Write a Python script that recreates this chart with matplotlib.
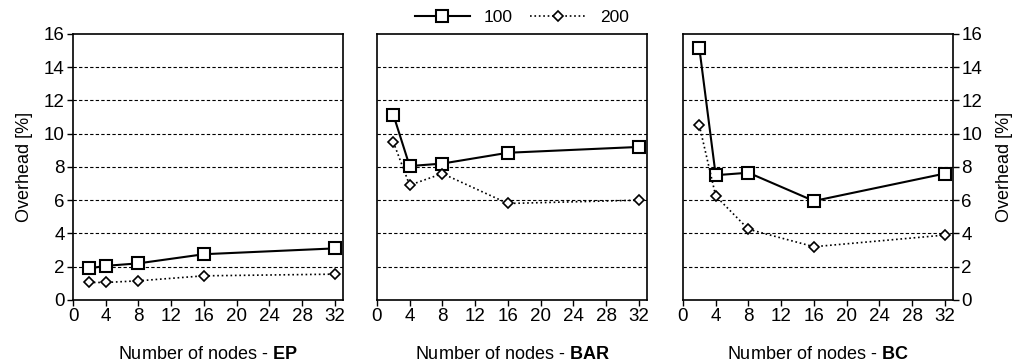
import matplotlib
matplotlib.use("Agg")
from matplotlib import pyplot as plt

plt.rcParams['font.family'] = ['Liberation Sans', 'DejaVu Sans']
plt.rcParams['mathtext.fontset'] = 'custom'
plt.rcParams['mathtext.rm'] = 'Liberation Sans'
plt.rcParams['mathtext.bf'] = 'Liberation Sans:bold'

nodes = [2, 4, 8, 16, 32]
ep_100 = [1.9, 2.05, 2.2, 2.75, 3.1]
ep_200 = [1.05, 1.05, 1.15, 1.45, 1.55]
bar_100 = [11.15, 8.05, 8.2, 8.85, 9.2]
bar_200 = [9.5, 6.9, 7.6, 5.8, 6.0]
bc_100 = [15.15, 7.5, 7.65, 5.95, 7.6]
bc_200 = [10.5, 6.25, 4.25, 3.2, 3.9]
names = ['EP', 'BAR', 'BC']
xticks = [0, 4, 8, 12, 16, 20, 24, 28, 32]
yticks = [0, 2, 4, 6, 8, 10, 12, 14, 16]

fig = plt.figure(figsize=(10.27, 3.64), dpi=100)
lefts = [0.0711, 0.367, 0.665]
w = 0.263
bottom = 0.176
h = 0.731
data = [(ep_100, ep_200), (bar_100, bar_200), (bc_100, bc_200)]

for i in range(3):
    ax = fig.add_axes([lefts[i], bottom, w, h])
    a, b = data[i]
    l1, = ax.plot(nodes, a, color='black', lw=1.5, marker='s', ms=8,
                  mfc='white', mec='black', mew=1.5, label='100', zorder=3)
    l2, = ax.plot(nodes, b, color='black', lw=1.2, ls=':', marker='D', ms=5,
                  mfc='white', mec='black', mew=1.2, label='200', zorder=3)
    ax.set_xlim(0, 33)
    ax.set_ylim(0, 16)
    ax.set_xticks(xticks)
    ax.set_yticks(yticks)
    for y in yticks[1:-1]:
        ax.axhline(y, color='black', lw=0.8, ls=(0, (3, 2)), zorder=1)
    ax.tick_params(direction='out', length=4, width=1, labelsize=13.5, colors='black', pad=2)
    for s in ax.spines.values():
        s.set_linewidth(1.2)
    ax.set_xlabel('Number of nodes - $\\mathbf{' + names[i] + '}$', fontsize=13, labelpad=15)
    if i == 0:
        ax.set_ylabel('Overhead [%]', fontsize=13, labelpad=8)
    elif i == 1:
        ax.tick_params(axis='y', left=False, labelleft=False)
    else:
        ax.yaxis.tick_right()
        ax.yaxis.set_label_position('right')
        ax.set_ylabel('Overhead [%]', fontsize=13, labelpad=10)

fig.legend([l1, l2], ['100', '200'], loc='center', bbox_to_anchor=(0.508, 0.953),
           ncol=2, frameon=False, fontsize=12.5, handlelength=3.2, columnspacing=1.0,
           handletextpad=0.8)

fig.savefig('out.png', dpi=100)
